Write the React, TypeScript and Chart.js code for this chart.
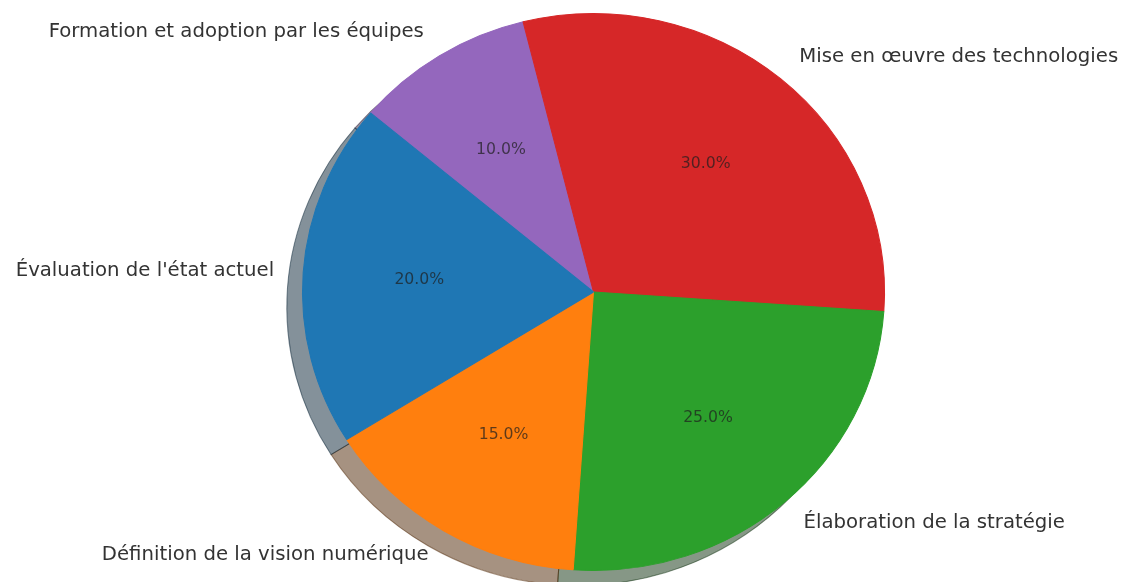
import React, { useEffect, useRef } from "react";
import { Chart, registerables } from "chart.js";

Chart.register(...registerables);

const categories = [
  "Évaluation de l'état actuel",
  "Définition de la vision numérique",
  "Élaboration de la stratégie",
  "Mise en œuvre des technologies",
  "Formation et adoption par les équipes",
];
const values = [20, 15, 25, 30, 10];
const colors = ["#1f77b4", "#ff7f0e", "#2ca02c", "#d62728", "#9467bd"];

const W = 1125;
const H = 582;
const SX = 1.045; // horizontal stretch of the pie (non-equal aspect)
const SHADOW_DX = -15;
const SHADOW_DY = 15;
const FONT = "'DejaVu Sans', 'Liberation Sans', sans-serif";

function hexToRgb(h: string) {
  const n = parseInt(h.slice(1), 16);
  return [(n >> 16) & 255, (n >> 8) & 255, n & 255];
}

export default function App() {
  const ref = useRef<HTMLCanvasElement | null>(null);

  useEffect(() => {
    if (!ref.current) return;
    const order = [4, 3, 2, 1, 0]; // clockwise drawing order
    const labels = order.map((i) => categories[i]);
    const data = order.map((i) => values[i]);
    const bg = order.map((i) => colors[i]);
    const total = values.reduce((a, b) => a + b, 0);

    const ellipsePlugin = {
      id: "ellipse",
      beforeDatasetsDraw(chart: any) {
        const ctx = chart.ctx;
        const meta = chart.getDatasetMeta(0);
        const first = meta.data[0];
        if (!first) return;
        const { x: cx, y: cy } = first.getProps(["x", "y"], true);
        ctx.save();
        ctx.translate(cx, cy);
        ctx.scale(SX, 1);
        ctx.translate(-cx, -cy);
        // shadows
        meta.data.forEach((arc: any, i: number) => {
          const p = arc.getProps(["x", "y", "startAngle", "endAngle", "outerRadius"], true);
          const [r, g, b] = hexToRgb(bg[i]);
          const col = `rgba(${Math.round(r * 0.3)},${Math.round(g * 0.3)},${Math.round(b * 0.3)},0.5)`;
          ctx.beginPath();
          ctx.moveTo(p.x + SHADOW_DX, p.y + SHADOW_DY);
          ctx.arc(p.x + SHADOW_DX, p.y + SHADOW_DY, p.outerRadius, p.startAngle, p.endAngle);
          ctx.closePath();
          ctx.fillStyle = col;
          ctx.fill();
          ctx.strokeStyle = col;
          ctx.lineWidth = 1;
          ctx.stroke();
        });
      },
      afterDatasetsDraw(chart: any) {
        chart.ctx.restore();
      },
      afterDraw(chart: any) {
        const ctx = chart.ctx;
        const meta = chart.getDatasetMeta(0);
        meta.data.forEach((arc: any, i: number) => {
          const p = arc.getProps(["x", "y", "startAngle", "endAngle", "outerRadius"], true);
          const mid = (p.startAngle + p.endAngle) / 2;
          const c = Math.cos(mid);
          const s = Math.sin(mid);
          // outer label
          ctx.save();
          ctx.font = `19.7px ${FONT}`;
          ctx.fillStyle = "#333333";
          ctx.textBaseline = "middle";
          ctx.textAlign = c > 0 ? "left" : "right";
          ctx.fillText(labels[i], p.x + SX * 1.1 * p.outerRadius * c, p.y + 1.1 * p.outerRadius * s);
          // percentage
          ctx.font = `15.7px ${FONT}`;
          ctx.fillStyle = "rgba(30,30,30,0.72)";
          ctx.textAlign = "center";
          const pct = ((data[i] / total) * 100).toFixed(1) + "%";
          ctx.fillText(pct, p.x + SX * 0.6 * p.outerRadius * c, p.y + 0.6 * p.outerRadius * s);
          ctx.restore();
        });
      },
    };

    const chart = new Chart(ref.current, {
      type: "pie",
      data: {
        labels,
        datasets: [
          {
            data,
            backgroundColor: bg,
            borderColor: bg,
            borderWidth: 1,
            clip: false as any,
          },
        ],
      },
      options: {
        responsive: false,
        animation: false,
        devicePixelRatio: 1,
        rotation: -50,
        layout: { padding: { left: 62, right: 0, top: 13, bottom: 11 } },
        plugins: {
          legend: { display: false },
          tooltip: { enabled: false },
        },
      },
      plugins: [ellipsePlugin],
    });
    return () => chart.destroy();
  }, []);

  return (
    <div style={{ position: "absolute", left: 0, top: 0, width: W, height: H, background: "#ffffff" }}>
      <canvas ref={ref} width={W} height={H} style={{ width: W, height: H, display: "block" }} />
    </div>
  );
}
